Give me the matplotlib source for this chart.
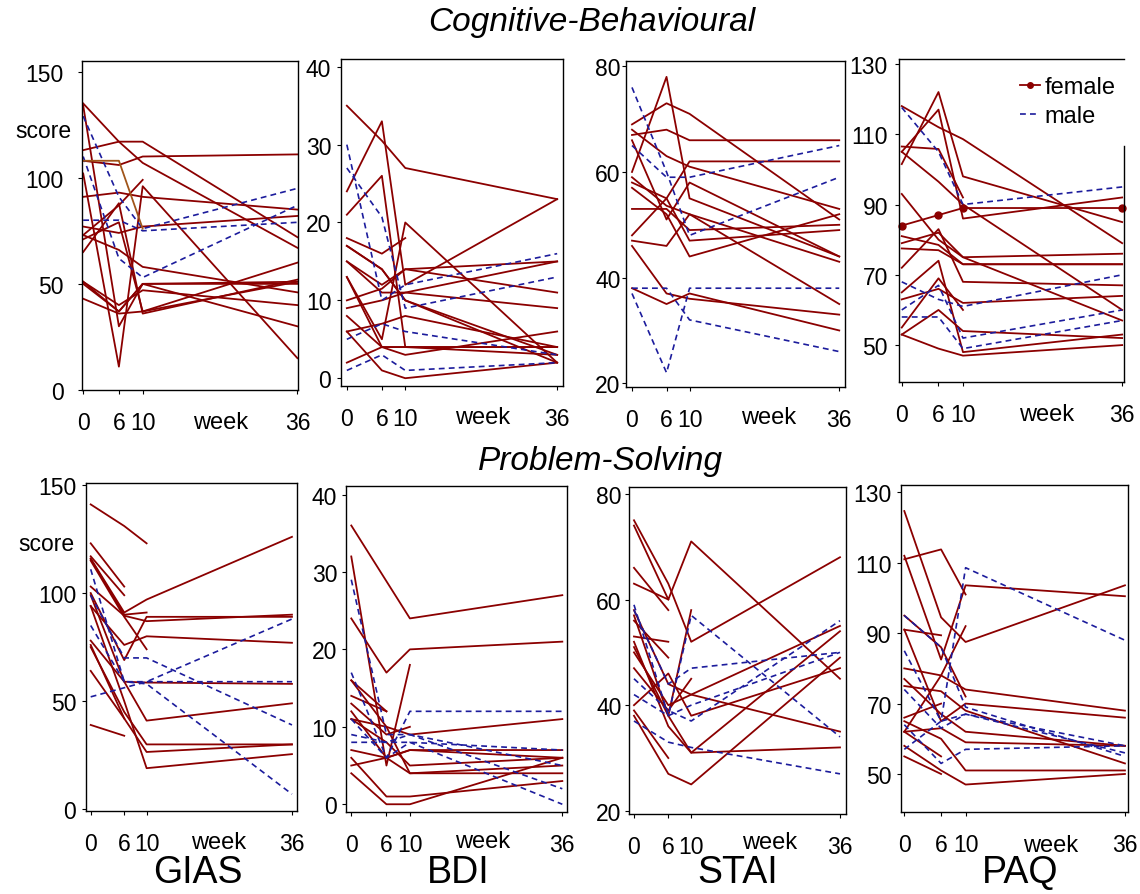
import numpy as np
import matplotlib
matplotlib.use("Agg")
import matplotlib.pyplot as plt
from matplotlib.lines import Line2D

plt.rcParams["font.family"] = ["Liberation Sans", "DejaVu Sans"]

weeks = np.array([0, 6, 10, 36])
week_ticks = [0, 6, 10, 36]
nan = np.nan

# ---- Cognitive-Behavioural ----
cb_gias_f = [
    [113, 117, 117, 72], [135, 117, 107, 67], [108, 106, 110, 111],
    [134, 30, 50, 51], [102, 11, 96, 15], [91, 93, 91, 85],
    [77, 74, 77, 82], [73, 87, 99, nan], [71, 79, 37, 60],
    [65, 88, 36, 52], [73, 66, 58, 46], [51, 40, 47, 40],
    [50, 37, 50, 50], [43, 36, 37, 51], [51, 37, 50, 30],
]
cb_gias_m = [[129, 91, 76, 95], [110, 62, 53, 87], [80, 80, 75, 79]]
cb_gias_odd = [108, 108, 76, nan]

cb_bdi_f = [
    [35, 30.5, 27, 23], [24, 33, 12, 23], [21, 26, 4, 4], [18, 16, 18, nan],
    [17, 14, 10, 3], [13, 5, 20, 2], [15, 12, 14, 15], [15, 11, 11, 9],
    [10, 11.5, 14, 11], [9, 10, 11, 15], [13, 4, 4, 4], [8, 4, 4, 3],
    [6, 7, 8, 4], [6, 1, 0, 2], [2, 4, 3, 6], [17, 14, 10, 2],
]
cb_bdi_m = [[30, 10, 12, 16], [27, 20.7, 9, 13], [5, 7, 6, 3], [1, 3, 1, 2]]

cb_stai_f = [
    [69, 73, 71, 51], [67, 68, 66, 66], [68, 63, 61, 53], [60, 78, 55, 44],
    [48, 55, 62, 62], [66, 51, 58, 44], [59, 53.6, 52, 43], [53, 53, 49, 50],
    [47, 46, 52, 35], [58, 55, 47, 49], [57, 52, 44, 52], [46, 37, 36, 33],
    [38, 35, 37, 30],
]
cb_stai_m = [[65, 59, 59, 65], [76, 60, 48, 59], [38, 38, 32, 26], [37, 22, 38, 38]]

cb_paq_f = [
    [118, 112, 108.6, 79], [101.5, 122, 98, 85], [105, 117, 86, 92],
    [105, 96.5, 90, 60], [106.5, 105.8, 92, nan], [93, 80, 75, 57],
    [81, 78.5, 73, 73], [79, 82, 75, 76], [77.5, 77, 73, 73],
    [72, 83, 68, 67], [65, 74, 48, 53], [63, 66, 62, 64],
    [55, 69, 60, nan], [53, 60, 54, 52], [53, 49, 47, 50],
]
cb_paq_m = [[117.6, 105, 90, 95], [68, 63, 61, 70], [60, 67, 52, 60], [58, 58, 49, 57]]
cb_paq_dots = [84, 87, 89, 89]

# ---- Problem-Solving ----
ps_gias_f = [
    [141, 131, 123, nan], [123, 103, nan, nan], [117, 99, nan, nan],
    [116, 91, 97, 126], [115.7, 90, 91, nan], [103, 89.5, 87, 90],
    [100, 69, 89, 89], [94, 76, 80, 77], [115, 89, 74, nan],
    [99, 59, 58.6, 58], [78, 59, 41, 49], [75, 45, 30, 30],
    [76, 42, 26.5, 30], [64, 42, nan, nan], [39, 34, nan, nan],
    [94, 50, 19, 25.5],
]
ps_gias_m = [[111, 59, 59, 59], [99, 70, 70, 39], [85, 59, 58, 7], [52, nan, 59, 88]]

ps_bdi_f = [
    [36, nan, 24, 27], [24, 17, 20, 21], [32, 5, 18, nan], [16, 12, nan, nan],
    [14, 12, nan, nan], [13, 9, 10, nan], [11, 10, 9, 11], [12, 6, 7, 7],
    [11, 8, 5, 6], [16, 10, 4, 4], [7, 6, 4, 5], [5, 6, 7, 6],
    [6, 1, 1, 3], [4, 0, 0, 6],
]
ps_bdi_m = [[29, 9, 9, 5], [17, 6, 12, 12], [9, 8, 9, 2], [8, 8, 8, 7], [11, 6, 8, 0]]

ps_stai_f = [
    [75, 63, 52, 68], [74, 60, 71, 45], [66, 58, nan, nan], [63, 60, nan, nan],
    [53, 52, nan, nan], [56, 49, nan, nan], [47, 39, 45, nan], [40, 46, 38, 47],
    [51, 38, 58, nan], [52, 36, 31, 54], [50, 40, 42, 55], [58, 44, 42, 35],
    [39, 30, nan, nan], [38, 27, 25, 49], [57, 38, 31, 32],
]
ps_stai_m = [[59, 38, 57, 34], [58, 44, 47, 50], [45, 39, 37, 56],
             [42, 38, 40, 50], [37, 33, 32, 27]]

ps_paq_f = [
    [124.7, 94.5, 87.5, 103.6], [111, 113.8, 101, nan], [112, 82.5, 103.6, 100.5],
    [91, 89.4, nan, nan], [62, 78, 92, nan], [95, 86, 72, nan],
    [80, 78, 74, 68], [77, 67, 62, 58], [75, 73.5, 68, 53],
    [66, 70, nan, nan], [62, 63, 59, 58], [65, 60, 51, 51],
    [62, 55, nan, nan], [55, 50, nan, nan], [91, 65, 70, 66],
    [58, 51, 47, 50],
]
ps_paq_m = [[57, 65, 108.6, 88], [95, 86, 69, 55], [85, 65, 67, 58],
            [64, 53, 57, 58], [74, 63, 67, 56]]

RED = "#8b0000"
BLUE = "#1c1c9c"
W, H = 1140, 895

fig = plt.figure(figsize=(W / 100, H / 100), dpi=100)


def px_axes(x0, y0, x1, y1):
    return fig.add_axes([x0 / W, 1 - y1 / H, (x1 - x0) / W, (y1 - y0) / H])


def fig_text(x, y, s, **kw):
    fig.text(x / W, 1 - y / H, s, ha="center", va="center", **kw)


def draw(ax, fem, mal, ylim, xlim, yticks, ypad):
    for vals in fem:
        v = np.array(vals, dtype=float)
        ok = ~np.isnan(v)
        ax.plot(weeks[ok], v[ok], color=RED, lw=1.3)
    for vals in mal:
        v = np.array(vals, dtype=float)
        ok = ~np.isnan(v)
        ax.plot(weeks[ok], v[ok], color=BLUE, lw=1.2, ls=(0, (3.5, 2.5)))
    ax.set_xlim(*xlim)
    ax.set_ylim(*ylim)
    ax.set_xticks(week_ticks)
    ax.set_yticks(yticks)
    ax.tick_params(axis="x", direction="out", length=3, pad=12, labelsize=16.5)
    ax.tick_params(axis="y", direction="out", length=3, pad=ypad, labelsize=16.5)
    for sp in ax.spines.values():
        sp.set_linewidth(1.0)


# panel boxes in pixels: (left, top, right, bottom)
ax1 = px_axes(82, 62, 298, 391)
draw(ax1, cb_gias_f, cb_gias_m, (0, 155), (-0.2, 36.1), [0, 50, 100, 150], 10)
v = np.array(cb_gias_odd)
ok = ~np.isnan(v)
ax1.plot(weeks[ok], v[ok], color="#a0551a", lw=1.3)

ax2 = px_axes(341, 60, 563, 387)
draw(ax2, cb_bdi_f, cb_bdi_m, (-1, 41), (-1, 37), [0, 10, 20, 30, 40], 4)

ax3 = px_axes(626, 62, 845, 388)
draw(ax3, cb_stai_f, cb_stai_m, (19.3, 81), (-1.04, 37), [20, 40, 60, 80], 1)

ax4 = px_axes(899, 60, 1124, 383)
draw(ax4, cb_paq_f, cb_paq_m, (39.5, 131.4), (-0.45, 36.3), [50, 70, 90, 110, 130], 5)
ax4.plot(weeks, cb_paq_dots, color=RED, lw=1.3, marker="o", ms=5, clip_on=False)
ax4.spines["right"].set_bounds(39.5, 106.6)
handles = [Line2D([], [], color=RED, lw=1.3, marker="o", ms=4),
           Line2D([], [], color=BLUE, lw=1.2, ls=(0, (3.5, 2.5)))]
ax4.legend(handles, ["female", "male"], loc="upper left",
           bbox_to_anchor=(1020 / W, 1 - 77 / H), bbox_transform=fig.transFigure,
           frameon=False, fontsize=17, handlelength=0.85, handletextpad=0.2,
           labelspacing=0.3, borderpad=0, borderaxespad=0)

ax5 = px_axes(86, 484, 297, 812)
draw(ax5, ps_gias_f, ps_gias_m, (-0.8, 150.9), (-0.84, 36.9), [0, 50, 100, 150], 4)

ax6 = px_axes(346, 487, 567, 813)
draw(ax6, ps_bdi_f, ps_bdi_m, (-1, 41.1), (-0.9, 36.8), [0, 10, 20, 30, 40], 3.4)

ax7 = px_axes(629, 488, 846, 815)
draw(ax7, ps_stai_f, ps_stai_m, (19.4, 81.3), (-0.87, 37.05), [20, 40, 60, 80], 2.4)

ax8 = px_axes(901, 486, 1128, 813)
draw(ax8, ps_paq_f, ps_paq_m, (39.2, 132.1), (-0.54, 36.5), [50, 70, 90, 110, 130], 3.6)

# labels
for x, y in [(221, 423), (483, 418), (769, 418), (1047, 415),
             (219, 843), (483, 842), (770, 843), (1051, 846)]:
    fig_text(x, y, "week", fontsize=17)
fig_text(43, 132, "score", fontsize=16.5)
fig_text(46, 545, "score", fontsize=16.5)

fig_text(592, 22, "Cognitive-Behavioural", fontsize=24, style="italic")
fig_text(601, 462, "Problem-Solving", fontsize=24, style="italic")
for x, s in [(198, "GIAS"), (458, "BDI"), (738, "STAI"), (1020, "PAQ")]:
    fig_text(x, 873, s, fontsize=27)

fig.savefig("out.png", dpi=100)
